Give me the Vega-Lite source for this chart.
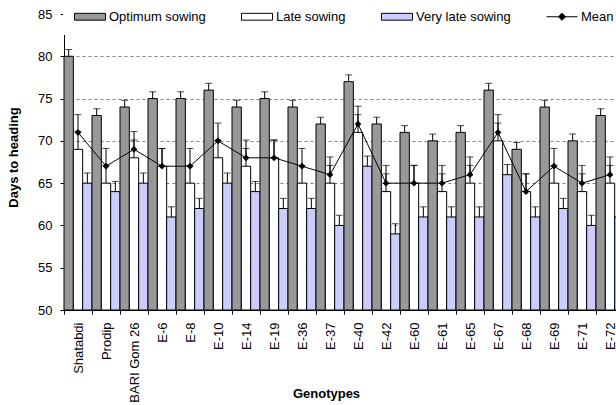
{
  "$schema": "https://vega.github.io/schema/vega-lite/v6.json",
  "width": 552,
  "height": 296,
  "autosize": {"type": "none"},
  "padding": {"left": 64, "top": 14, "right": 0, "bottom": 95},
  "background": "white",
  "config": {
    "font": "Liberation Sans",
    "view": {"stroke": null},
    "axis": {"labelColor": "black", "titleColor": "black", "domainColor": "black", "tickColor": "black", "labelFontSize": 13, "titleFontSize": 13, "titleFontWeight": "bold", "tickSize": 4}
  },
  "data": {"values": [
    {"g": "Shatabdi", "s": "Optimum sowing", "v": 80, "hi": 80.8},
    {"g": "Shatabdi", "s": "Late sowing", "v": 69, "hi": 71.1},
    {"g": "Shatabdi", "s": "Very late sowing", "v": 65, "hi": 66.2},
    {"g": "Shatabdi", "s": "Mean", "v": 71, "hi": 73.1},
    {"g": "Prodip", "s": "Optimum sowing", "v": 73, "hi": 73.8},
    {"g": "Prodip", "s": "Late sowing", "v": 65, "hi": 67.1},
    {"g": "Prodip", "s": "Very late sowing", "v": 64, "hi": 65.2},
    {"g": "Prodip", "s": "Mean", "v": 67, "hi": 69.1},
    {"g": "BARI Gom 26", "s": "Optimum sowing", "v": 74, "hi": 74.8},
    {"g": "BARI Gom 26", "s": "Late sowing", "v": 68, "hi": 70.1},
    {"g": "BARI Gom 26", "s": "Very late sowing", "v": 65, "hi": 66.2},
    {"g": "BARI Gom 26", "s": "Mean", "v": 69, "hi": 71.1},
    {"g": "E-6", "s": "Optimum sowing", "v": 75, "hi": 75.8},
    {"g": "E-6", "s": "Late sowing", "v": 67, "hi": 69.1},
    {"g": "E-6", "s": "Very late sowing", "v": 61, "hi": 62.2},
    {"g": "E-6", "s": "Mean", "v": 67, "hi": 69.1},
    {"g": "E-8", "s": "Optimum sowing", "v": 75, "hi": 75.8},
    {"g": "E-8", "s": "Late sowing", "v": 65, "hi": 67.1},
    {"g": "E-8", "s": "Very late sowing", "v": 62, "hi": 63.2},
    {"g": "E-8", "s": "Mean", "v": 67, "hi": 69.1},
    {"g": "E-10", "s": "Optimum sowing", "v": 76, "hi": 76.8},
    {"g": "E-10", "s": "Late sowing", "v": 68, "hi": 70.1},
    {"g": "E-10", "s": "Very late sowing", "v": 65, "hi": 66.2},
    {"g": "E-10", "s": "Mean", "v": 70, "hi": 72.1},
    {"g": "E-14", "s": "Optimum sowing", "v": 74, "hi": 74.8},
    {"g": "E-14", "s": "Late sowing", "v": 67, "hi": 69.1},
    {"g": "E-14", "s": "Very late sowing", "v": 64, "hi": 65.2},
    {"g": "E-14", "s": "Mean", "v": 68, "hi": 70.1},
    {"g": "E-19", "s": "Optimum sowing", "v": 75, "hi": 75.8},
    {"g": "E-19", "s": "Late sowing", "v": 68, "hi": 70.1},
    {"g": "E-19", "s": "Very late sowing", "v": 62, "hi": 63.2},
    {"g": "E-19", "s": "Mean", "v": 68, "hi": 70.1},
    {"g": "E-36", "s": "Optimum sowing", "v": 74, "hi": 74.8},
    {"g": "E-36", "s": "Late sowing", "v": 65, "hi": 67.1},
    {"g": "E-36", "s": "Very late sowing", "v": 62, "hi": 63.2},
    {"g": "E-36", "s": "Mean", "v": 67, "hi": 69.1},
    {"g": "E-37", "s": "Optimum sowing", "v": 72, "hi": 72.8},
    {"g": "E-37", "s": "Late sowing", "v": 65, "hi": 67.1},
    {"g": "E-37", "s": "Very late sowing", "v": 60, "hi": 61.2},
    {"g": "E-37", "s": "Mean", "v": 66, "hi": 68.1},
    {"g": "E-40", "s": "Optimum sowing", "v": 77, "hi": 77.8},
    {"g": "E-40", "s": "Late sowing", "v": 71, "hi": 73.1},
    {"g": "E-40", "s": "Very late sowing", "v": 67, "hi": 68.2},
    {"g": "E-40", "s": "Mean", "v": 72, "hi": 74.1},
    {"g": "E-42", "s": "Optimum sowing", "v": 72, "hi": 72.8},
    {"g": "E-42", "s": "Late sowing", "v": 64, "hi": 66.1},
    {"g": "E-42", "s": "Very late sowing", "v": 59, "hi": 60.2},
    {"g": "E-42", "s": "Mean", "v": 65, "hi": 67.1},
    {"g": "E-60", "s": "Optimum sowing", "v": 71, "hi": 71.8},
    {"g": "E-60", "s": "Late sowing", "v": 65, "hi": 67.1},
    {"g": "E-60", "s": "Very late sowing", "v": 61, "hi": 62.2},
    {"g": "E-60", "s": "Mean", "v": 65, "hi": 67.1},
    {"g": "E-61", "s": "Optimum sowing", "v": 70, "hi": 70.8},
    {"g": "E-61", "s": "Late sowing", "v": 64, "hi": 66.1},
    {"g": "E-61", "s": "Very late sowing", "v": 61, "hi": 62.2},
    {"g": "E-61", "s": "Mean", "v": 65, "hi": 67.1},
    {"g": "E-65", "s": "Optimum sowing", "v": 71, "hi": 71.8},
    {"g": "E-65", "s": "Late sowing", "v": 65, "hi": 67.1},
    {"g": "E-65", "s": "Very late sowing", "v": 61, "hi": 62.2},
    {"g": "E-65", "s": "Mean", "v": 66, "hi": 68.1},
    {"g": "E-67", "s": "Optimum sowing", "v": 76, "hi": 76.8},
    {"g": "E-67", "s": "Late sowing", "v": 70, "hi": 72.1},
    {"g": "E-67", "s": "Very late sowing", "v": 66, "hi": 67.2},
    {"g": "E-67", "s": "Mean", "v": 71, "hi": 73.1},
    {"g": "E-68", "s": "Optimum sowing", "v": 69, "hi": 69.8},
    {"g": "E-68", "s": "Late sowing", "v": 64, "hi": 66.1},
    {"g": "E-68", "s": "Very late sowing", "v": 61, "hi": 62.2},
    {"g": "E-68", "s": "Mean", "v": 64, "hi": 66.1},
    {"g": "E-69", "s": "Optimum sowing", "v": 74, "hi": 74.8},
    {"g": "E-69", "s": "Late sowing", "v": 65, "hi": 67.1},
    {"g": "E-69", "s": "Very late sowing", "v": 62, "hi": 63.2},
    {"g": "E-69", "s": "Mean", "v": 67, "hi": 69.1},
    {"g": "E-71", "s": "Optimum sowing", "v": 70, "hi": 70.8},
    {"g": "E-71", "s": "Late sowing", "v": 64, "hi": 66.1},
    {"g": "E-71", "s": "Very late sowing", "v": 60, "hi": 61.2},
    {"g": "E-71", "s": "Mean", "v": 65, "hi": 67.1},
    {"g": "E-72", "s": "Optimum sowing", "v": 73, "hi": 73.8},
    {"g": "E-72", "s": "Late sowing", "v": 65, "hi": 67.1},
    {"g": "E-72", "s": "Very late sowing", "v": 61, "hi": 62.2},
    {"g": "E-72", "s": "Mean", "v": 66, "hi": 68.1}
  ]},
  "encoding": {
    "x": {
      "field": "g",
      "type": "nominal",
      "scale": {
        "domain": ["Shatabdi", "Prodip", "BARI Gom 26", "E-6", "E-8", "E-10", "E-14", "E-19", "E-36", "E-37", "E-40", "E-42", "E-60", "E-61", "E-65", "E-67", "E-68", "E-69", "E-71", "E-72"],
        "range": [0, 560],
        "paddingInner": 0,
        "paddingOuter": 0
      },
      "axis": {
        "title": "Genotypes",
        "tickBand": "extent",
        "labelAngle": -90,
        "labelAlign": "right",
        "labelBaseline": "middle",
        "labelPadding": 8,
        "labelOverlap": false,
        "grid": false,
        "titleX": 262,
        "titleY": 87,
        "titleAlign": "center",
        "titleAnchor": null,
        "titleBaseline": "alphabetic"
      }
    }
  },
  "layer": [
    {
      "transform": [{"filter": "datum.s !== 'Mean'"}],
      "mark": {"type": "bar", "stroke": "black", "strokeWidth": 1},
      "encoding": {
        "xOffset": {"field": "s", "type": "nominal", "scale": {"domain": ["Optimum sowing", "Late sowing", "Very late sowing"], "paddingInner": 0, "paddingOuter": 0}},
        "y": {
          "field": "v",
          "type": "quantitative",
          "scale": {"domain": [50, 85], "nice": false, "zero": false},
          "axis": {
            "title": "Days to heading",
            "values": [50, 55, 60, 65, 70, 75, 80, 85],
            "grid": true,
            "gridDash": [3, 3],
            "gridColor": "#808080",
            "gridWidth": 1,
            "labelPadding": 8,
            "titleX": -51,
            "titleY": 143,
            "titleAngle": -90,
            "titleAlign": "center",
            "titleBaseline": "middle"
          }
        },
        "y2": {"datum": 50},
        "fill": {
          "field": "s",
          "type": "nominal",
          "scale": {"domain": ["Optimum sowing", "Late sowing", "Very late sowing", "Mean"], "range": ["#999999", "#ffffff", "#ccccff", "#000000"]},
          "legend": {
            "orient": "none",
            "direction": "horizontal",
            "legendX": -1,
            "legendY": -15,
            "title": null,
            "fillColor": "white",
            "padding": 11,
            "symbolSize": 961,
            "symbolStrokeWidth": 1,
            "symbolStrokeColor": "black",
            "labelFontSize": 13,
            "labelColor": "black",
            "labelOffset": 3,
            "columnPadding": 35,
            "clipHeight": 13,
            "encode": {
              "symbols": {
                "update": {
                  "shape": {"signal": "datum.value === 'Mean' ? 'M-1,0H1M0,-0.23L0.23,0L0,0.23L-0.23,0Z' : 'M-1,-0.22H1V0.22H-1Z'"},
                  "stroke": {"value": "black"},
                  "strokeWidth": {"value": 1},
                  "strokeOpacity": {"value": 1},
                  "fillOpacity": {"value": 1},
                  "opacity": {"value": 1}
                }
              }
            }
          }
        }
      }
    },
    {
      "transform": [{"filter": "datum.s !== 'Mean'"}],
      "mark": {"type": "rule", "color": "black", "strokeWidth": 1},
      "encoding": {
        "xOffset": {"field": "s", "type": "nominal"},
        "y": {"field": "v", "type": "quantitative"},
        "y2": {"field": "hi"}
      }
    },
    {
      "transform": [{"filter": "datum.s !== 'Mean'"}],
      "mark": {"type": "tick", "color": "black", "size": 7, "thickness": 1},
      "encoding": {
        "xOffset": {"field": "s", "type": "nominal"},
        "y": {"field": "hi", "type": "quantitative"}
      }
    },
    {
      "transform": [{"filter": "datum.s === 'Mean'"}],
      "mark": {"type": "rule", "color": "black", "strokeWidth": 1},
      "encoding": {
        "y": {"field": "v", "type": "quantitative"},
        "y2": {"field": "hi"}
      }
    },
    {
      "transform": [{"filter": "datum.s === 'Mean'"}],
      "mark": {"type": "tick", "color": "black", "size": 7, "thickness": 1},
      "encoding": {
        "y": {"field": "hi", "type": "quantitative"}
      }
    },
    {
      "transform": [{"filter": "datum.s === 'Mean'"}],
      "mark": {"type": "line", "color": "black", "strokeWidth": 1, "point": {"shape": "diamond", "filled": true, "size": 45, "color": "black"}},
      "encoding": {
        "y": {"field": "v", "type": "quantitative"}
      }
    }
  ]
}
